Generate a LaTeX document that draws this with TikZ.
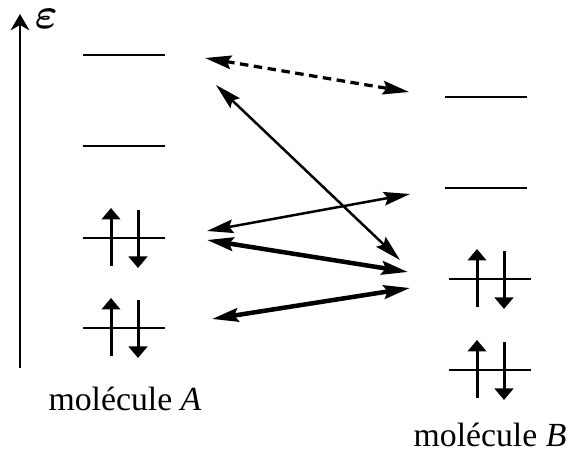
\documentclass[tikz,border=0pt]{standalone}
\usepackage{fontspec}
\setmainfont{Liberation Serif}
\usetikzlibrary{arrows.meta,calc}

\begin{document}
\begin{tikzpicture}[
  x=0.4pt, y=-0.4pt,
  font=\fontsize{13.5}{16}\selectfont,
  level/.style={line width=1.1pt},
  spin/.style={line width=1.2pt, -{Triangle[length=4.6pt,width=7.4pt]}},
  link/.style={line width=1pt,
    {Stealth[length=10.5pt,width=5.4pt,inset=1.5pt]}-{Stealth[length=10.5pt,width=5.4pt,inset=1.5pt]}},
  strong/.style={link, line width=1.8pt},
  faint/.style={link, line width=1.3pt, dash pattern=on 3.4pt off 2.2pt},
  label/.style={inner sep=0.5pt},
]
\useasboundingbox (0,0) rectangle (571,450);

% energy axis
\coordinate (base) at (20,368);
\coordinate (top) at (20,14);
\draw[line width=1.1pt, -{Stealth[length=6.5pt,width=7.5pt]}] (base) -- (top);
\node[label, anchor=west, font=\fontsize{17}{18}\selectfont\boldmath] (eps) at (33,19) {$\varepsilon$};

% levels of molecule A and B
\foreach \name/\x/\y in {A4/124/55, A3/124/146, A2/124/238, A1/124/328,
                         B4/486/97, B3/486/188, B2/490/279, B1/490/370}
  \draw[level] (\x-41,\y) coordinate (\name) -- ++(82,0);

% electron pairs
\foreach \x/\y in {124/238, 124/328, 490/279, 490/370} {
  \draw[spin] (\x-13,\y+28) -- (\x-13,\y-30);
  \draw[spin] (\x+14,\y-28) -- (\x+14,\y+30);
}

\node[label] (molA) at (125,399) {molécule \textit{A}};
\node[label] (molB) at (490,435) {molécule \textit{B}};

% interactions
\coordinate (a4d) at (205,58);  \coordinate (b4d) at (409,92);
\coordinate (a4s) at (216,85);  \coordinate (b2s) at (400,260);
\coordinate (a2u) at (207,231); \coordinate (b3u) at (410,194);
\coordinate (a2l) at (207,240); \coordinate (b2l) at (408,272);
\coordinate (a1r) at (212,319); \coordinate (b2r) at (410,288);

\draw[faint] (a4d) -- (b4d);
\draw[link] (a4s) -- (b2s);
\draw[link] (a2u) -- (b3u);
\draw[strong] (a2l) -- (b2l);
\draw[strong] (a1r) -- (b2r);
\end{tikzpicture}
\end{document}
